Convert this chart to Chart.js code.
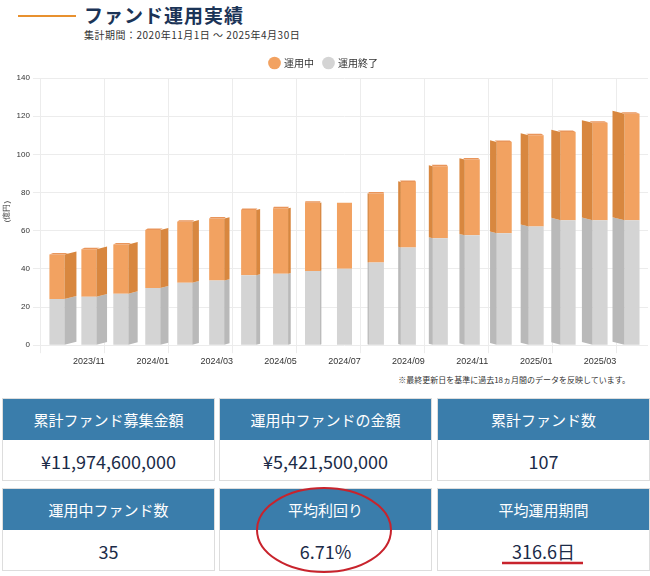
<!DOCTYPE html>
<html><head><meta charset="utf-8">
<script src="https://cdn.jsdelivr.net/npm/chart.js@4"></script>
<style>
body{margin:0;width:650px;height:576px;background:#fff;font-family:"Noto Sans CJK JP","Noto Sans",sans-serif;position:relative;overflow:hidden}
#line{position:absolute;left:18px;top:15px;width:58px;height:2px;background:#e8912f}
#title{position:absolute;left:84px;top:1px;font-size:19px;font-weight:bold;color:#1b3457;letter-spacing:1px}
#sub{position:absolute;left:84px;top:27px;font-size:10px;color:#333;letter-spacing:0.5px}
#wrap{position:absolute;left:0;top:48px;width:650px;height:322px}
#note{position:absolute;right:20px;top:374px;font-size:8px;color:#333}
.box{position:absolute;width:213px;height:83px;border:1px solid #ddd;box-sizing:border-box}
.h{height:41px;background:#3a7dab;color:#fff;font-size:15px;display:flex;align-items:center;justify-content:center}
.v{height:41px;color:#1b2b48;font-size:18px;display:flex;align-items:center;justify-content:center}
svg{position:absolute;left:0;top:0}
</style></head><body>
<div id="line"></div><div id="title">ファンド運用実績</div>
<div id="sub">集計期間：2020年11月1日 ～ 2025年4月30日</div>
<div id="wrap"><canvas id="c"></canvas></div>
<div id="note">※最終更新日を基準に過去18ヵ月間のデータを反映しています。</div>
<div id="boxes"></div>
<svg width="650" height="576"><ellipse cx="324" cy="530" rx="67" ry="42" fill="none" stroke="#c8232c" stroke-width="2"/><line x1="502" y1="563" x2="583" y2="563" stroke="#c8232c" stroke-width="2.5"/></svg>
<script>
const categories=["2023/10","2023/11","2023/12","2024/01","2024/02","2024/03","2024/04","2024/05","2024/06","2024/07","2024/08","2024/09","2024/10","2024/11","2024/12","2025/01","2025/02","2025/03","2025/04"];
const totals=[47.5,50.3,52.8,60.4,64.7,66.4,70.8,71.7,74.6,74.6,79.5,85.5,93.7,97.3,106.5,110,111.7,116.5,121.3];
const ended=[24.2,25.4,27,30,32.7,33.9,36.7,37.5,38.9,40.1,43.3,51.2,56,57.6,58.7,62.2,65.5,65.5,65.5];
const active=totals.map((t,i)=>+(t-ended[i]).toFixed(1));
const yTicks=[0,20,40,60,80,100,120,140];
const boxLabels=["累計ファンド募集金額","運用中ファンドの金額","累計ファンド数","運用中ファンド数","平均利回り","平均運用期間"];
const boxValues=["¥11,974,600,000","¥5,421,500,000","107","35","6.71%","316.6日"];

const bx=[2,219,437],by=[398,488];
let html='';
boxLabels.forEach((l,i)=>{html+=`<div class="box" style="left:${bx[i%3]}px;top:${by[Math.floor(i/3)]}px"><div class="h">${l}</div><div class="v">${boxValues[i]}</div></div>`;});
document.getElementById('boxes').innerHTML=html;

const side={id:'side',afterDatasetsDraw(ch){
  const ctx=ch.ctx,n=categories.length,mid=(n-1)/2;
  const cols=['#b9b9b9','#d8873f'];
  ch.data.datasets.forEach((ds,di)=>{
    ch.getDatasetMeta(di).data.forEach((b,i)=>{
      const w=12*Math.abs(i-mid)/mid; if(w<0.5)return;
      const dir=i<mid?1:-1;
      const edge=b.x+dir*b.width/2, far=edge+dir*w, dy=3*Math.abs(i-mid)/mid;
      ctx.fillStyle=cols[di];
      ctx.beginPath();ctx.moveTo(edge,b.y);ctx.lineTo(far,b.y-dy);ctx.lineTo(far,b.base-dy);ctx.lineTo(edge,b.base);ctx.closePath();ctx.fill();
      if(di===1){ctx.fillStyle='#e9955a';ctx.beginPath();ctx.moveTo(b.x-b.width/2,b.y);ctx.lineTo(b.x+b.width/2,b.y);ctx.lineTo(b.x+b.width/2+dir*w*0.3,b.y-1.5);ctx.lineTo(b.x-b.width/2+dir*w*0.3,b.y-1.5);ctx.closePath();ctx.fill();}
    });
  });
}};

new Chart(document.getElementById('c'),{type:'bar',
 data:{labels:categories,datasets:[
  {label:'運用終了',data:ended,backgroundColor:'#d4d4d4'},
  {label:'運用中',data:active,backgroundColor:'#f2a261'}]},
 options:{responsive:true,maintainAspectRatio:false,animation:false,
  layout:{padding:{left:0,right:2,top:0,bottom:0}},
  datasets:{bar:{barPercentage:0.47,categoryPercentage:1}},
  plugins:{tooltip:{enabled:false},legend:{reverse:true,labels:{usePointStyle:true,pointStyle:'circle',boxWidth:9,boxHeight:9,font:{size:10,family:'Noto Sans CJK JP'},color:'#333',padding:10}}},
  scales:{
   x:{stacked:true,grid:{offset:true,color:(c)=>c.index%2===0?'#ececec':'rgba(0,0,0,0)'},border:{display:false},
      ticks:{font:{size:9},color:'#333',maxRotation:0,autoSkip:false,callback:(v,i)=>i%2===1?categories[i]:''}},
   y:{stacked:true,min:0,max:140,afterBuildTicks:(a)=>{a.ticks=yTicks.map(v=>({value:v}));},grid:{color:'#ececec'},border:{display:false},
      ticks:{font:{size:8},color:'#333'},title:{display:true,text:'(億円)',font:{size:8},color:'#333',padding:2}}
  }}
 ,plugins:[side]});
</script></body></html>
